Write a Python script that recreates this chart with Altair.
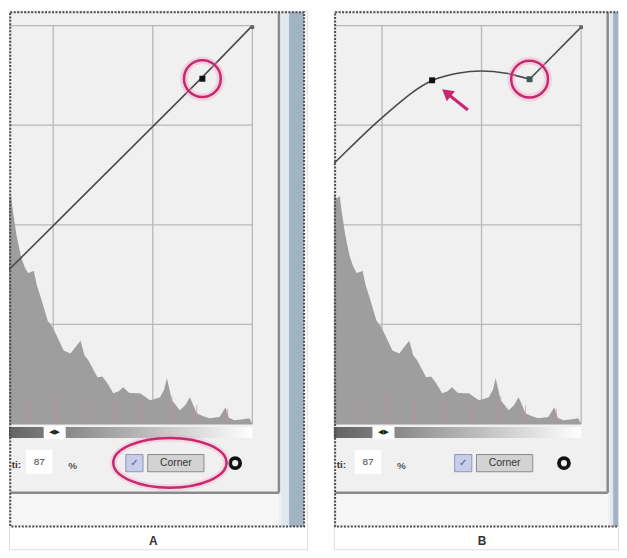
import altair as alt
import pandas as pd

# ---------------- data (levels 0-255) ----------------
GRID_LEVELS = [0, 63.75, 127.5, 191.25, 255]

HIST_X = [95, 98.6, 100.5, 101.7, 104.0, 106.8, 109.0, 111.3, 115.1, 117.0, 119.6, 124.0,
          126.5, 129.1, 134.2, 138.6, 141.5, 145.0, 147.5, 150.1, 155.8, 159.0, 162.2, 166.0,
          169.5, 172.3, 176.0, 180.0, 183.1, 189.5, 192.5, 195.9, 198.5, 200.3, 203.5, 208.6,
          212.0, 215.0, 219.4, 223.5, 227.7, 234.0, 237.8, 240.0, 243.6, 248.0, 253.1, 255]
HIST_Y = [150, 144.4, 146.0, 136.1, 121.0, 107.5, 101.0, 96.7, 97.9, 89.0, 80.8, 66.1,
          63.0, 57.9, 47.1, 45.2, 49.0, 53.4, 44.0, 40.7, 29.9, 30.5, 26.1, 19.7,
          21.0, 23.5, 20.0, 19.7, 19.7, 15.3, 16.0, 17.2, 22.0, 29.3, 15.3, 8.9,
          12.0, 17.2, 7.0, 5.0, 3.8, 4.5, 10.8, 4.0, 2.5, 3.0, 3.8, 0]

COMB_X = [111.9, 130.4, 148.2, 167.2, 184.4, 203.5, 219.4, 239.1]
COMB_H = [18, 20, 16, 18, 14, 18, 12, 10]

CURVE_A_X = [0, 223, 255]
CURVE_A_Y = [0, 222, 255]
CURVE_B_X = [70, 99, 128, 160, 176, 191, 207, 222]
CURVE_B_Y = [140, 169, 196.5, 220, 224.5, 226, 224.5, 220.7]
CORNER_B_X = [222, 255]
CORNER_B_Y = [220.7, 254]

PTS_A_X = [223]
PTS_A_Y = [221]
PTS_A_C = ["#111111"]
PTS_B_X = [159.6, 222]
PTS_B_Y = [220, 220.7]
PTS_B_C = ["#111111", "#3d5c5c"]
END_X = [255]
END_Y = [254]

HILITE_A = (223, 221)
HILITE_B = (222, 220.7)

OUTPUT_TEXT = "ti:"
VALUE_TEXT = "87"
PCT_TEXT = "%"
CORNER_TEXT = "Corner"

YD = [-80.1, 264.5]
PANELS = [
    dict(label="A", xd=[99.2, 290.0], width=300, frame=[100.0, 288.1],
         light=[273.5, 278.5], blue=[278.5, 288.0]),
    dict(label="B", xd=[96.7, 278.6], width=286, frame=[97.5, 283.6],
         light=[273.5, 275.5], blue=[275.5, 284.0]),
]
MAGENTA = "#c8286e"


def build(p):
    xs = alt.Scale(domain=p["xd"], nice=False, zero=False)
    ys = alt.Scale(domain=YD, nice=False, zero=False)

    def X(f="x"):
        return alt.X(f"{f}:Q", scale=xs, axis=None)

    def Y(f="y"):
        return alt.Y(f"{f}:Q", scale=ys, axis=None)

    def box(x, x2, y, y2):
        return pd.DataFrame({"x": [x], "x2": [x2], "y": [y], "y2": [y2]})

    enc_rect = dict(x=X(), x2=alt.X2("x2"), y=Y(), y2=alt.Y2("y2"))
    f0, f1 = p["frame"]
    top = 263.6
    layers = []
    # background inside dotted frame
    layers.append(alt.Chart(box(f0, f1, top, -65.5)).mark_rect(fill="#f0f0f0", clip=True).encode(**enc_rect))
    layers.append(alt.Chart(box(f0, 272, -43.9, -65.5)).mark_rect(fill="#f6f6f6", clip=True).encode(**enc_rect))
    # window edge strip
    layers.append(alt.Chart(box(p["light"][0], p["light"][1], top, -65.5)).mark_rect(
        fill="#e2e8ee", clip=True).encode(**enc_rect))
    layers.append(alt.Chart(box(p["blue"][0], p["blue"][1], top, -65.5)).mark_rect(
        fill="#a2b3c4", clip=True).encode(**enc_rect))

    # grid
    gv = pd.DataFrame({"x": GRID_LEVELS, "y": [0] * 5, "y2": [255] * 5})
    gh = pd.DataFrame({"y": GRID_LEVELS, "x": [0] * 5, "x2": [255] * 5})
    layers.append(alt.Chart(gv).mark_rule(color="#b8b8b8", strokeWidth=1.3, clip=True).encode(
        x=X(), y=Y(), y2=alt.Y2("y2")))
    layers.append(alt.Chart(gh).mark_rule(color="#b8b8b8", strokeWidth=1.3, clip=True).encode(
        y=Y(), x=X(), x2=alt.X2("x2")))

    # histogram
    hist = pd.DataFrame({"x": HIST_X, "y": HIST_Y, "y0": [0] * len(HIST_X)})
    layers.append(alt.Chart(hist).mark_area(color="#9e9e9e", clip=True, interpolate="linear").encode(
        x=X(), y=Y(), y2=alt.Y2("y0")))
    comb = pd.DataFrame({"x": COMB_X, "y": COMB_H, "y0": [0] * len(COMB_X)})
    layers.append(alt.Chart(comb).mark_rule(color="#c98f95", opacity=0.55, strokeWidth=1.2, clip=True).encode(
        x=X(), y=Y(), y2=alt.Y2("y0")))

    # gradient bar
    grad = alt.Gradient(gradient="linear",
                        stops=[alt.GradientStop(color="#000000", offset=0),
                               alt.GradientStop(color="#ffffff", offset=1)],
                        x1=0, x2=1, y1=0, y2=0)
    layers.append(alt.Chart(box(0, 255, -1.9, -8.9)).mark_rect(color=grad, clip=True).encode(**enc_rect))
    layers.append(alt.Chart(box(121.4, 135.5, -1.2, -9.6)).mark_rect(fill="#ffffff").encode(**enc_rect))
    layers.append(alt.Chart(pd.DataFrame({"x": [128.4], "y": [-5.4], "t": ["◀▶"]})).mark_text(
        fontSize=7, color="#222", font="DejaVu Sans").encode(x=X(), y=Y(), text="t:N"))

    # dialog borders
    layers.append(alt.Chart(pd.DataFrame({"x": [272], "y": [top], "y2": [-43.9]})).mark_rule(
        color="#8a8a8a", strokeWidth=2.5, clip=True).encode(x=X(), y=Y(), y2=alt.Y2("y2")))
    layers.append(alt.Chart(pd.DataFrame({"y": [-43.9], "x": [f0], "x2": [272]})).mark_rule(
        color="#8a8a8a", strokeWidth=2.5, clip=True).encode(y=Y(), x=X(), x2=alt.X2("x2")))

    # bottom controls
    layers.append(alt.Chart(pd.DataFrame({"x": [f0 + 1], "y": [-26], "t": [OUTPUT_TEXT]})).mark_text(
        align="left", fontSize=10, fontWeight="bold", color="#333", font="Liberation Sans").encode(
        x=X(), y=Y(), text="t:N"))
    layers.append(alt.Chart(box(110, 127, -16.5, -32)).mark_rect(fill="#ffffff").encode(**enc_rect))
    layers.append(alt.Chart(pd.DataFrame({"x": [118.5], "y": [-24], "t": [VALUE_TEXT]})).mark_text(
        fontSize=10, color="#444", font="Liberation Sans").encode(x=X(), y=Y(), text="t:N"))
    layers.append(alt.Chart(pd.DataFrame({"x": [140], "y": [-27], "t": [PCT_TEXT]})).mark_text(
        fontSize=10, fontWeight="bold", color="#555", font="Liberation Sans").encode(x=X(), y=Y(), text="t:N"))
    layers.append(alt.Chart(box(174, 185, -19.5, -30.5)).mark_rect(
        fill="#c9cde8", stroke="#8f93b8", strokeWidth=1).encode(**enc_rect))
    layers.append(alt.Chart(pd.DataFrame({"x": [179.5], "y": [-25], "t": ["✓"]})).mark_text(
        fontSize=10, color="#4a5a9a", font="DejaVu Sans").encode(x=X(), y=Y(), text="t:N"))
    layers.append(alt.Chart(box(188, 224, -19.5, -30.5)).mark_rect(
        fill="#d3d3d3", stroke="#8a8a8a", strokeWidth=1).encode(**enc_rect))
    layers.append(alt.Chart(pd.DataFrame({"x": [206], "y": [-25], "t": [CORNER_TEXT]})).mark_text(
        fontSize=10.5, color="#333", font="Liberation Sans").encode(x=X(), y=Y(), text="t:N"))
    layers.append(alt.Chart(pd.DataFrame({"x": [244], "y": [-25]})).mark_point(
        shape="circle", filled=False, size=100, strokeWidth=3.8, color="#111", opacity=1).encode(x=X(), y=Y()))

    # curve
    if p["label"] == "A":
        px, py, pc = PTS_A_X, PTS_A_Y, PTS_A_C
        hx, hy = HILITE_A
        layers.append(alt.Chart(pd.DataFrame({"x": CURVE_A_X, "y": CURVE_A_Y})).mark_line(
            color="#4a4a4a", strokeWidth=1.6, clip=True).encode(x=X(), y=Y()))
    else:
        px, py, pc = PTS_B_X, PTS_B_Y, PTS_B_C
        hx, hy = HILITE_B
        layers.append(alt.Chart(pd.DataFrame({"x": CURVE_B_X, "y": CURVE_B_Y})).mark_line(
            color="#4a4a4a", strokeWidth=1.6, clip=True, interpolate="monotone").encode(x=X(), y=Y()))
        layers.append(alt.Chart(pd.DataFrame({"x": CORNER_B_X, "y": CORNER_B_Y})).mark_line(
            color="#4a4a4a", strokeWidth=1.6, clip=True).encode(x=X(), y=Y()))
    layers.append(alt.Chart(pd.DataFrame({"x": px, "y": py, "c": pc})).mark_point(
        shape="square", filled=True, size=36, opacity=1).encode(
        x=X(), y=Y(), color=alt.Color("c:N", scale=None)))
    layers.append(alt.Chart(pd.DataFrame({"x": END_X, "y": END_Y})).mark_point(
        shape="square", filled=True, size=14, color="#666", opacity=1).encode(x=X(), y=Y()))

    # highlight circle
    hl = pd.DataFrame({"x": [hx], "y": [hy]})
    layers.append(alt.Chart(hl).mark_point(shape="circle", filled=False, size=1369, strokeWidth=8,
                                           color="#f0a0c0", opacity=0.35).encode(x=X(), y=Y()))
    layers.append(alt.Chart(hl).mark_point(shape="circle", filled=False, size=1369, strokeWidth=2.5,
                                           color=MAGENTA, opacity=1).encode(x=X(), y=Y()))

    if p["label"] == "A":
        ell = pd.DataFrame({"x": [202.2], "y": [-24.8]})
        path = "M-1,0A1,0.44,0,1,1,1,0A1,0.44,0,1,1,-1,0Z"
        layers.append(alt.Chart(ell).mark_point(shape=path, filled=False, size=12996, strokeWidth=7,
                                                color="#f0a0c0", opacity=0.3).encode(x=X(), y=Y()))
        layers.append(alt.Chart(ell).mark_point(shape=path, filled=False, size=12996, strokeWidth=2.5,
                                                color=MAGENTA, opacity=1).encode(x=X(), y=Y()))
    else:
        arrow = pd.DataFrame({"x": [182.5], "y": [201.0], "x2": [170.5], "y2": [210.6]})
        layers.append(alt.Chart(arrow).mark_rule(color=MAGENTA, strokeWidth=3).encode(
            x=X(), y=Y(), x2=alt.X2("x2"), y2=alt.Y2("y2")))
        layers.append(alt.Chart(pd.DataFrame({"x": [168.8], "y": [212.0]})).mark_point(
            shape="triangle-up", filled=True, size=170, angle=309, color=MAGENTA, opacity=1).encode(
            x=X(), y=Y()))

    # dotted frame on top
    layers.append(alt.Chart(box(f0, f1, top, -65.5)).mark_rect(
        fillOpacity=0, stroke="#4a4a4a", strokeWidth=2, strokeDash=[2, 1.5], clip=True).encode(**enc_rect))

    # panel label
    layers.append(alt.Chart(pd.DataFrame({"x": [191.5], "y": [-79.4], "t": [p["label"]]})).mark_text(
        fontSize=12, fontWeight="bold", color="#333", baseline="bottom", font="Liberation Sans").encode(
        x=X(), y=Y(), text="t:N"))

    return alt.layer(*layers).properties(width=p["width"], height=542)


chart = alt.hconcat(*[build(p) for p in PANELS], spacing=25).resolve_scale(
    x="independent", y="independent").properties(padding=0).configure_view(
    stroke=None).configure(background="#ffffff")

chart.save("out.html", embed_options={"renderer": "svg", "actions": False})
